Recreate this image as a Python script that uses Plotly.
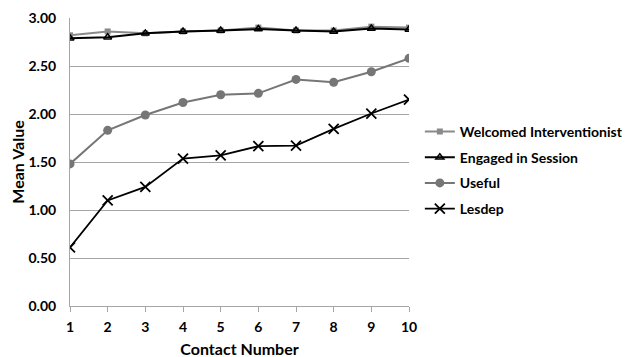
import plotly.graph_objects as go

contacts = [1, 2, 3, 4, 5, 6, 7, 8, 9, 10]
welcomed = [2.82, 2.86, 2.84, 2.86, 2.87, 2.90, 2.87, 2.87, 2.91, 2.90]
engaged = [2.79, 2.80, 2.84, 2.86, 2.87, 2.885, 2.87, 2.86, 2.89, 2.88]
useful = [1.48, 1.83, 1.99, 2.12, 2.20, 2.215, 2.36, 2.33, 2.44, 2.58]
lesdep = [0.61, 1.10, 1.24, 1.535, 1.57, 1.665, 1.67, 1.845, 2.005, 2.15]
y_ticks = [0, 0.5, 1.0, 1.5, 2.0, 2.5, 3.0]

FONT = "Lato"

fig = go.Figure()
fig.add_trace(go.Scatter(x=contacts, y=welcomed, name="Welcomed Interventionist",
                         mode="lines+markers", legendgroup="a",
                         line=dict(color="#8a8a8a", width=2),
                         marker=dict(symbol="square", size=6, color="#8a8a8a")))
fig.add_trace(go.Scatter(x=contacts, y=engaged, name="Engaged in Session",
                         mode="lines+markers", legendgroup="b",
                         line=dict(color="#000000", width=2),
                         marker=dict(symbol="triangle-up-open", size=7, color="#000000",
                                     line=dict(width=1.5))))
fig.add_trace(go.Scatter(x=contacts, y=useful, name="Useful",
                         mode="lines+markers", legendgroup="c",
                         line=dict(color="#767676", width=2),
                         marker=dict(symbol="circle", size=9, color="#767676")))
fig.add_trace(go.Scatter(x=contacts, y=lesdep, name="Lesdep",
                         mode="lines+markers", legendgroup="d",
                         line=dict(color="#000000", width=1.8),
                         marker=dict(symbol="x-thin-open", size=10, color="#000000",
                                     line=dict(width=1.8, color="#000000"))))

fig.update_layout(
    width=630, height=357,
    margin=dict(l=62, r=229, t=10, b=59),
    paper_bgcolor="white", plot_bgcolor="white",
    font=dict(family=FONT, size=13, color="#000000", weight="bold"),
    showlegend=True,
    legend=dict(x=1.032, xanchor="left", y=0.66, yanchor="top",
                font=dict(family=FONT, size=14, color="#000000", weight="bold"),
                tracegroupgap=4.5, itemwidth=30, bgcolor="rgba(0,0,0,0)"),
)
fig.update_xaxes(range=[1, 10], tickvals=contacts, ticktext=[str(c) for c in contacts],
                 automargin=False,
                 showgrid=False, zeroline=False, showline=True, linecolor="#a6a6a6",
                 linewidth=1, ticks="outside", ticklen=5, tickcolor="#a6a6a6",
                 ticklabelstandoff=3,
                 tickfont=dict(family=FONT, size=14, weight="bold"),
                 title=dict(text="Contact Number", standoff=10,
                            font=dict(family=FONT, size=16, weight="bold")))
fig.update_yaxes(range=[0, 3.0], tickvals=y_ticks, ticktext=[f"{v:.2f}" for v in y_ticks],
                 automargin=False,
                 showgrid=True, gridcolor="#a6a6a6", gridwidth=1, zeroline=False,
                 showline=True, linecolor="#a6a6a6", linewidth=1, ticks="",
                 ticklabelstandoff=10,
                 tickfont=dict(family=FONT, size=14, weight="bold"),
                 title=dict(text="Mean Value", standoff=6,
                            font=dict(family=FONT, size=16, weight="bold")))

fig.write_html("out.html")
